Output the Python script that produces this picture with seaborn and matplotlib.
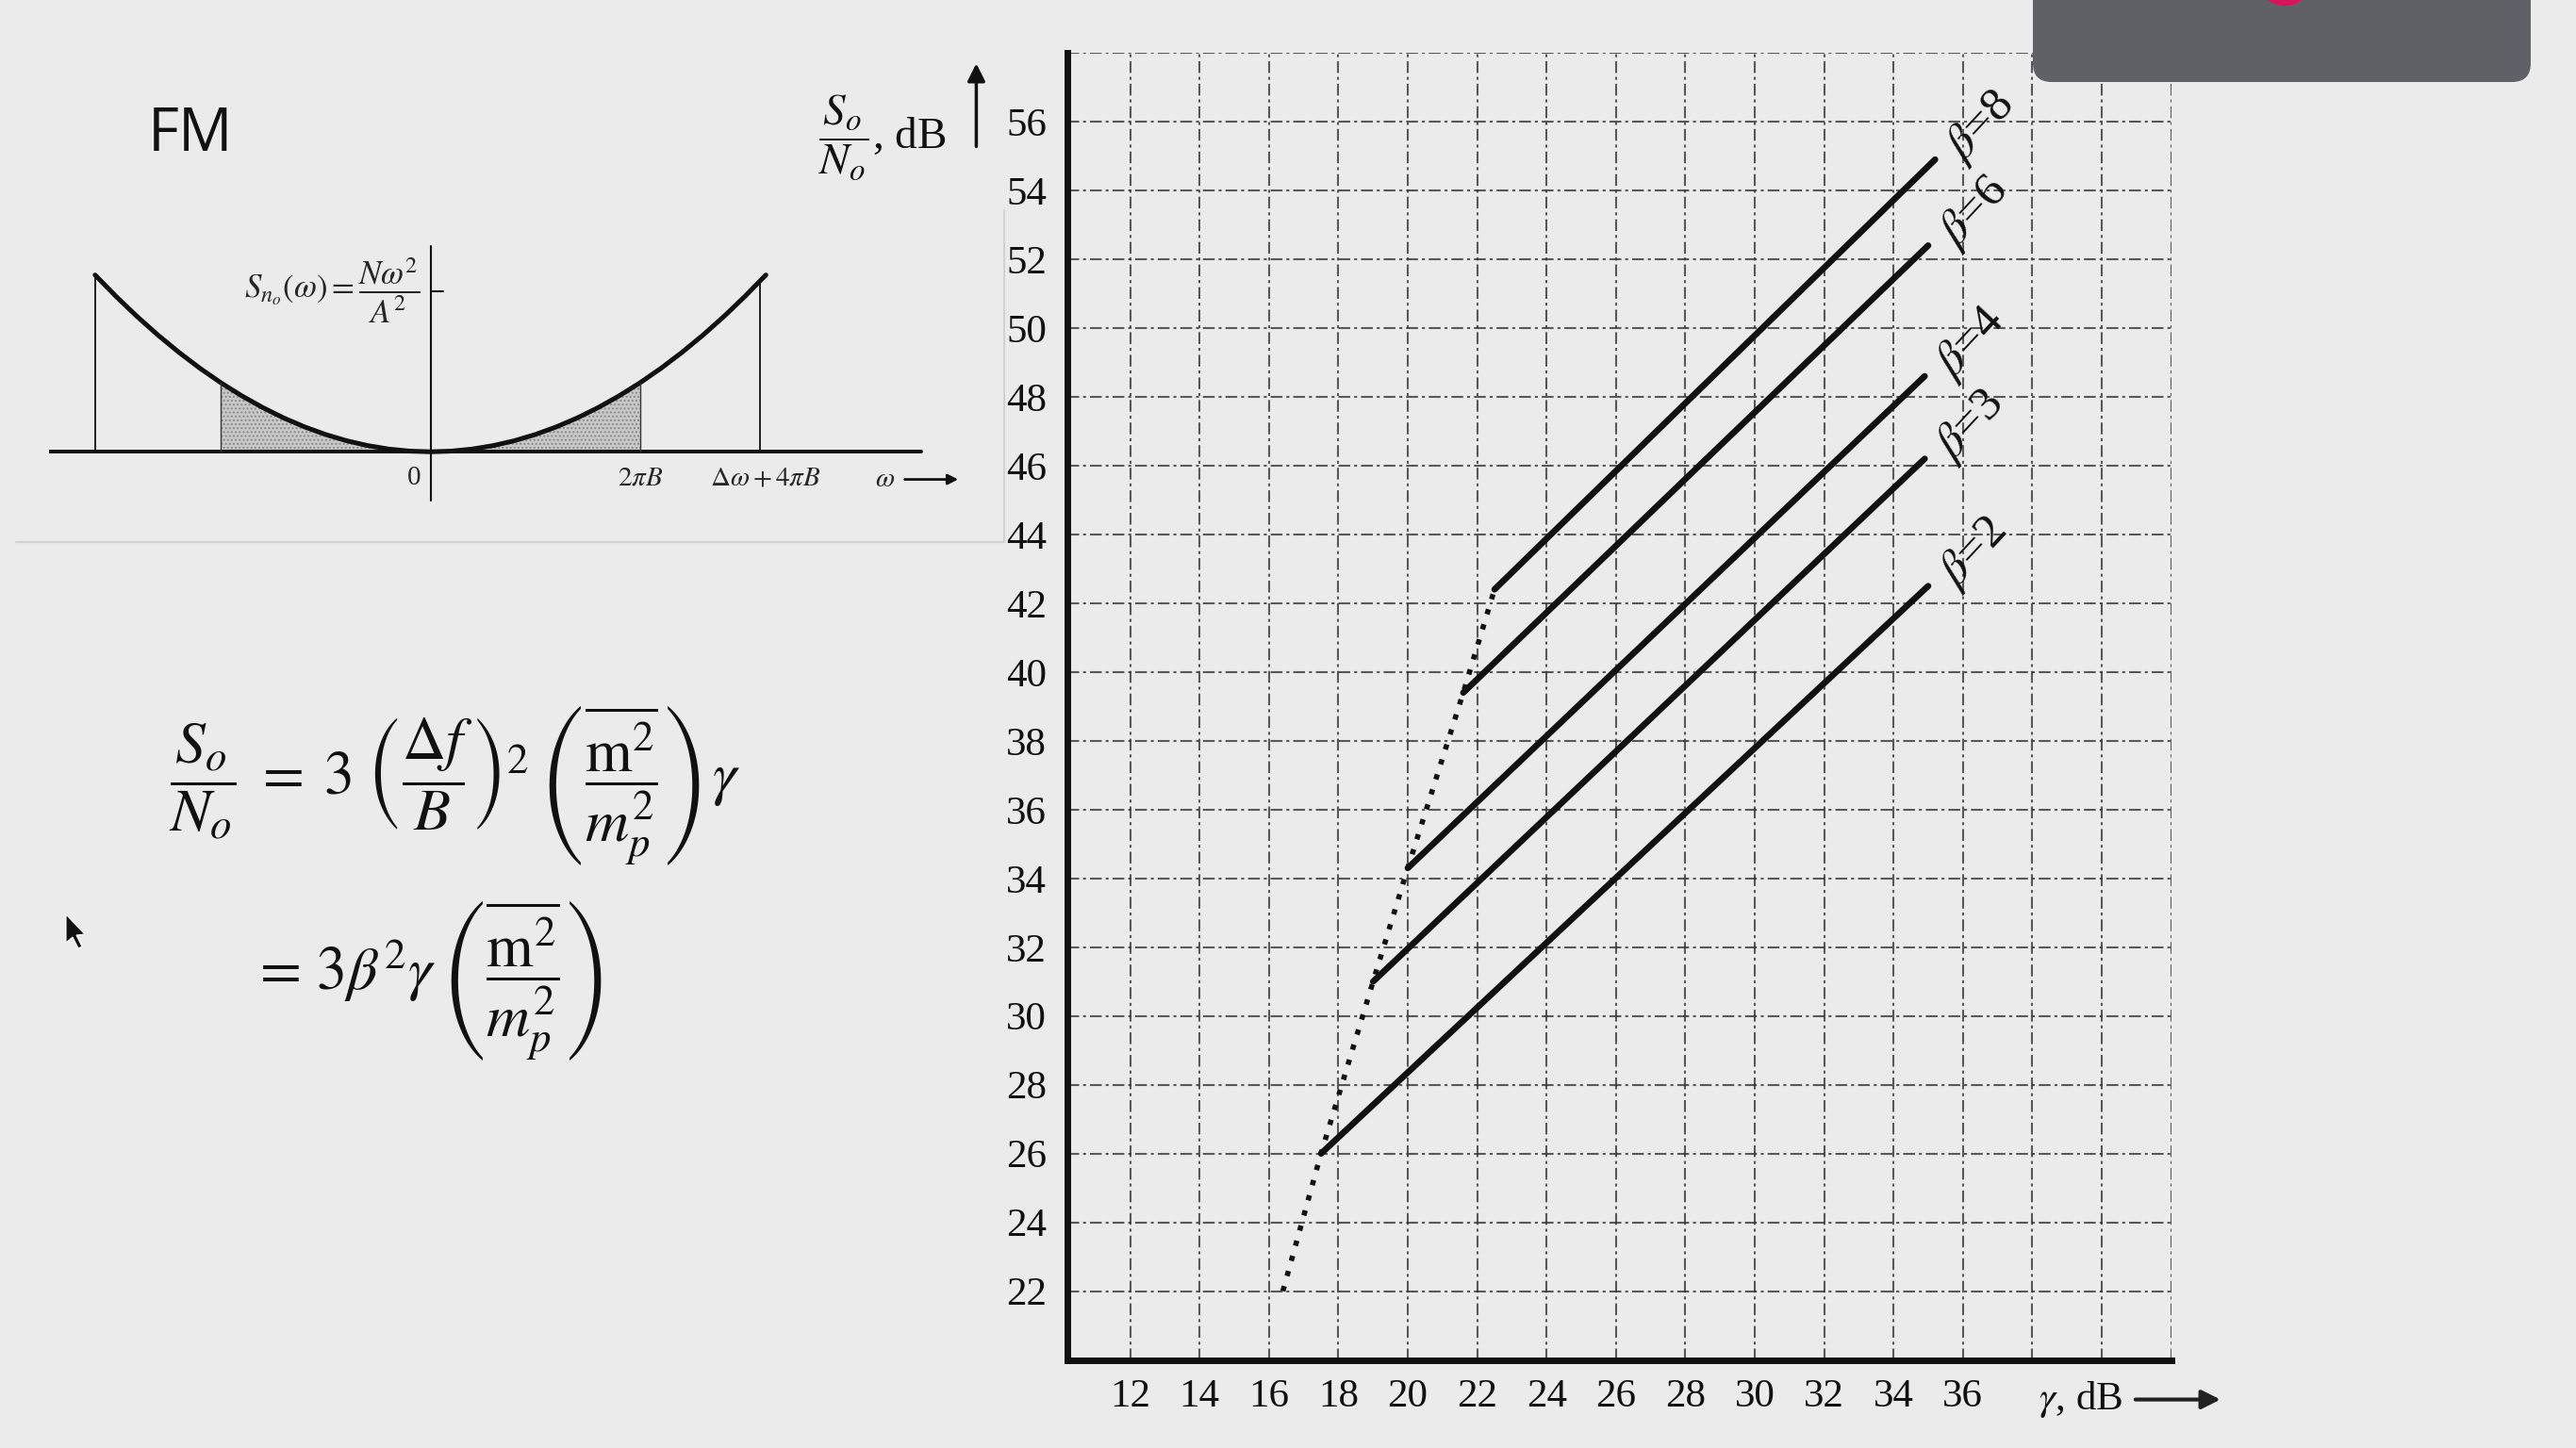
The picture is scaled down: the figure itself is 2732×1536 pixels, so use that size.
import matplotlib
matplotlib.use("Agg")
import matplotlib.pyplot as plt
import matplotlib.transforms as mtransforms
from matplotlib.patches import FancyBboxPatch, Circle, Polygon
import pandas as pd
import seaborn as sns

# beta curves: (gamma dB, So/No dB) at start and end of each solid line
betas = [2, 3, 4, 6, 8]
gamma_start = [17.5, 19.0, 20.0, 21.6, 22.5]
gamma_end = [35.0, 34.9, 34.9, 35.0, 35.2]
snr_start = [26.0, 31.0, 34.3, 39.4, 42.4]
snr_end = [42.5, 46.2, 48.6, 52.4, 54.9]

# threshold (dotted) line
thresh_gamma = [16.4, 17.5, 19.0, 20.0, 21.6, 22.5]
thresh_snr = [22.0, 26.0, 31.0, 34.3, 39.4, 42.4]

x_ticks = [12, 14, 16, 18, 20, 22, 24, 26, 28, 30, 32, 34, 36]
y_ticks = [22, 24, 26, 28, 30, 32, 34, 36, 38, 40, 42, 44, 46, 48, 50, 52, 54, 56]
x_grid = x_ticks + [38, 40, 42]
y_grid = y_ticks + [58]

# noise PSD sketch S_no(w) = N w^2 / A^2 (w in units of 2*pi*B)
omega = [-1.6, -1.5, -1.4, -1.3, -1.2, -1.1, -1.0, -0.9, -0.8, -0.7, -0.6, -0.5,
         -0.4, -0.3, -0.2, -0.1, 0.0, 0.1, 0.2, 0.3, 0.4, 0.5, 0.6, 0.7, 0.8,
         0.9, 1.0, 1.1, 1.2, 1.3, 1.4, 1.5, 1.6]
level = [2.56, 2.25, 1.96, 1.69, 1.44, 1.21, 1.0, 0.81, 0.64, 0.49, 0.36, 0.25,
         0.16, 0.09, 0.04, 0.01, 0.0, 0.01, 0.04, 0.09, 0.16, 0.25, 0.36, 0.49, 0.64,
         0.81, 1.0, 1.21, 1.44, 1.69, 1.96, 2.25, 2.56]

bg = "#ebebeb"
sns.set_theme(style="white")
plt.rcParams["font.family"] = ["Liberation Serif", "DejaVu Serif"]
plt.rcParams["mathtext.fontset"] = "stix"

fig = plt.figure(figsize=(27.32, 15.36), dpi=100, facecolor=bg)

# ---- main chart ----
ax = fig.add_axes([0.4145, 0.0608, 0.4283, 0.9027])
ax.set_facecolor(bg)

rows = []
for b, g0, g1, s0, s1 in zip(betas, gamma_start, gamma_end, snr_start, snr_end):
    rows.append({"beta": b, "gamma": g0, "snr": s0})
    rows.append({"beta": b, "gamma": g1, "snr": s1})
curves = pd.DataFrame(rows)
sns.lineplot(data=curves, x="gamma", y="snr", units="beta", estimator=None,
             color="#111111", lw=4.8, ax=ax, legend=False)

thresh = pd.DataFrame({"gamma": thresh_gamma, "snr": thresh_snr})
sns.lineplot(data=thresh, x="gamma", y="snr", color="#111111", lw=4,
             linestyle=(0, (1, 2.0)), ax=ax, legend=False)

for b, g1, s1 in zip(betas, gamma_end, snr_end):
    ax.text(g1 + 1.3, s1 + 0.95, r"$\beta$=" + str(b), fontsize=37,
            rotation=47, ha="center", va="center", color="#111111")

ax.set_xlim(10.2, 42.0)
ax.set_ylim(20.0, 58.0)
ax.set_xticks(x_grid)
ax.set_xticklabels([str(v) for v in x_ticks] + ["", "", ""])
ax.set_yticks(y_grid)
ax.set_yticklabels([str(v) for v in y_ticks] + [""])
ax.tick_params(length=0, labelsize=31, colors="#111111")
ax.tick_params(axis="y", pad=16)
ax.tick_params(axis="x", pad=14)
ax.grid(True, color="#333333", lw=1.5, linestyle=(0, (6, 2, 1.5, 2)), alpha=0.8)
ax.set_xlabel("")
ax.set_ylabel("")
for side in ["top", "right"]:
    ax.spines[side].set_visible(False)
for side in ["left", "bottom"]:
    ax.spines[side].set_linewidth(5)
    ax.spines[side].set_color("#111111")

ax.text(39.4, 18.85, r"$\gamma$, dB", fontsize=31, ha="center", va="center",
        color="#111111", clip_on=False)
ax.annotate("", xy=(43.5, 18.85), xytext=(40.9, 18.85), annotation_clip=False,
            arrowprops=dict(arrowstyle="-|>", lw=3, color="#222222", mutation_scale=30))

# y-axis label with arrow
fig.text(0.3425, 0.905, r"$\dfrac{S_o}{N_o}$, dB", fontsize=34, ha="center", va="center",
         color="#111111")
fig.add_artist(matplotlib.patches.FancyArrowPatch(
    (0.379, 0.897), (0.379, 0.958), transform=fig.transFigure,
    arrowstyle="-|>", mutation_scale=28, lw=2.5, color="#111111"))

# ---- left panel: FM title + noise PSD sketch ----
fig.text(0.0574, 0.907, "FM", fontsize=46, family=["Open Sans", "DejaVu Sans"],
         ha="left", va="center", color="#111111")

ins = fig.add_axes([0.019, 0.6484, 0.354, 0.1927])
ins.set_facecolor("none")
ins.axis("off")
ins.set_xlim(-1.82, 2.53)
ins.set_ylim(-0.83, 3.21)
psd = pd.DataFrame({"omega": omega, "level": level})
band = psd[(psd["omega"] >= -1.0) & (psd["omega"] <= 1.0)]
ins.fill_between(band["omega"], 0, band["level"], facecolor="#c8c8c8",
                 edgecolor="#8a8a8a", hatch="....", lw=0)
sns.lineplot(data=psd, x="omega", y="level", color="#111111", lw=3.6, ax=ins, legend=False)
ins.plot([-1.82, 2.34], [0, 0], color="#111111", lw=2.8)
ins.plot([0, 0], [-0.71, 2.98], color="#111111", lw=1.5)
ins.plot([0, 0.06], [2.33, 2.33], color="#111111", lw=1.5)
for w, top in [(-1.6, 2.56), (1.57, 2.46)]:
    ins.plot([w, w], [0, top], color="#111111", lw=1.3)
for w in [-1.0, 1.0]:
    ins.plot([w, w], [0, 1.0], color="#333333", lw=1.0)
ins.set_xlabel("")
ins.set_ylabel("")
ins.text(-0.08, -0.38, "0", fontsize=21, ha="center", va="center")
ins.text(1.0, -0.38, r"$2\pi B$", fontsize=21, ha="center", va="center")
ins.text(1.6, -0.38, r"$\Delta\omega + 4\pi B$", fontsize=21, ha="center", va="center")
ins.text(2.17, -0.4, r"$\omega$", fontsize=21, ha="center", va="center")
ins.annotate("", xy=(2.53, -0.4), xytext=(2.25, -0.4), annotation_clip=False,
             arrowprops=dict(arrowstyle="-|>", lw=2, color="#111111", mutation_scale=16))
ins.text(-0.05, 2.33, r"$S_{n_o}(\omega) = \dfrac{N\omega^2}{A^2}$", fontsize=25,
         ha="right", va="center")

# panel frame lines
fig.add_artist(plt.Line2D([0.0064, 0.390], [0.6257, 0.6257], color="#d2d2d2", lw=1.5))
fig.add_artist(plt.Line2D([0.390, 0.390], [0.6257, 0.855], color="#d2d2d2", lw=1.5))

# ---- equations ----
fig.text(0.0656, 0.4580,
         r"$\dfrac{S_o}{N_o}\; = \;3\;\left(\dfrac{\Delta f}{B}\right)^2\;"
         r"\left(\dfrac{\overline{\mathrm{m}^2}}{m_p^2}\right)\,\gamma$",
         fontsize=46, ha="left", va="center", color="#111111")
fig.text(0.0975, 0.3229,
         r"$= \,3\beta^2\gamma\;\left(\dfrac{\overline{\mathrm{m}^2}}{m_p^2}\right)$",
         fontsize=46, ha="left", va="center", color="#111111")

# ---- video overlay and cursor ----
ident = mtransforms.IdentityTransform()
fig.add_artist(FancyBboxPatch((2156, 1449), 528, 200, boxstyle="round,pad=0,rounding_size=20",
                              transform=ident, facecolor="#5f6166", edgecolor="none", zorder=10))
fig.add_artist(Circle((2423, 1560), 30, transform=ident, facecolor="#d6135b",
                      edgecolor="none", zorder=11))
fig.add_artist(Polygon([(70, 566), (70, 536), (77, 542), (83, 530), (87, 532),
                        (81, 544), (90, 545)], closed=True, transform=ident,
                       facecolor="#111111", edgecolor="white", lw=0.8, zorder=10))

fig.savefig("out.png", dpi=100, facecolor=bg)
